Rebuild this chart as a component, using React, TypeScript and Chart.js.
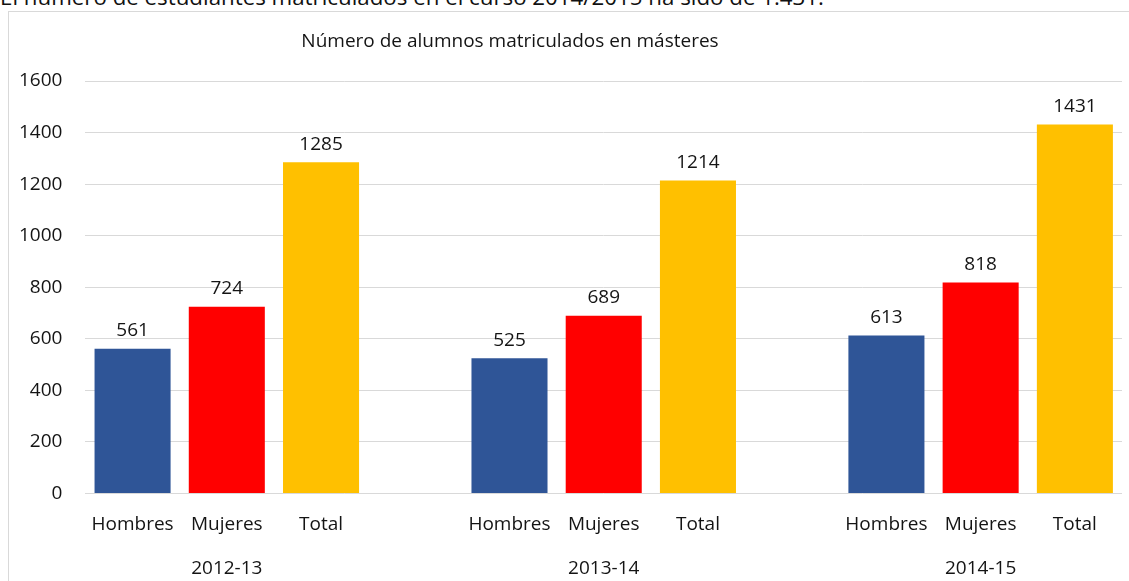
import React, { useEffect, useRef } from 'react';
import { Chart, registerables } from 'chart.js';

Chart.register(...registerables);

// ---- data ----
const categories = ['Hombres', 'Mujeres', 'Total', '', 'Hombres', 'Mujeres', 'Total', '', 'Hombres', 'Mujeres', 'Total'];
const groupLabels = ['', '2012-13', '', '', '', '2013-14', '', '', '', '2014-15', ''];
const values: (number | null)[] = [561, 724, 1285, null, 525, 689, 1214, null, 613, 818, 1431];
const seriesColors = ['#2F5597', '#FF0000', '#FFC000', 'rgba(0,0,0,0)'];
const yMin = 0;
const yMax = 1600;
const yStep = 200;
const titleText = 'Número de alumnos matriculados en másteres';
const noteText = 'El número de estudiantes matriculados en el curso 2014/2015 ha sido de 1.431.';

const FONT = "'Open Sans', 'Noto Sans', sans-serif";
const TEXT_COLOR = '#141414';

const barColors = values.map((_, i) => seriesColors[i % 4]);
const axisLabels = categories.map((c, i) => [c, groupLabels[i]]);

export default function App() {
  const canvasRef = useRef<HTMLCanvasElement | null>(null);

  useEffect(() => {
    if (!canvasRef.current) return;

    const titlePlugin = {
      id: 'customTitle',
      afterDraw(chart: any) {
        const ctx = chart.ctx;
        ctx.save();
        ctx.font = `19px ${FONT}`;
        ctx.fillStyle = TEXT_COLOR;
        ctx.textAlign = 'center';
        ctx.textBaseline = 'middle';
        ctx.fillText(titleText, 514, 30);
        ctx.restore();
      },
    };

    const valueLabelPlugin = {
      id: 'valueLabels',
      afterDatasetsDraw(chart: any) {
        const ctx = chart.ctx;
        const meta = chart.getDatasetMeta(0);
        ctx.save();
        ctx.font = `19px ${FONT}`;
        ctx.fillStyle = TEXT_COLOR;
        ctx.textAlign = 'center';
        ctx.textBaseline = 'alphabetic';
        meta.data.forEach((el: any, i: number) => {
          const v = values[i];
          if (v === null || v === undefined) return;
          ctx.fillText(String(v), el.x, el.y - 12.5);
        });
        ctx.restore();
      },
    };

    const chart = new Chart(canvasRef.current, {
      type: 'bar',
      data: {
        labels: axisLabels as any,
        datasets: [
          {
            data: values,
            backgroundColor: barColors,
            borderWidth: 0,
            barPercentage: 1,
            categoryPercentage: 0.807,
          },
        ],
      },
      options: {
        responsive: false,
        animation: false,
        devicePixelRatio: 1,
        layout: { padding: { top: 69, left: 0, right: 14, bottom: 1.5 } },
        plugins: {
          legend: { display: false },
          title: { display: false },
          tooltip: { enabled: false },
        },
        scales: {
          x: {
            type: 'category',
            position: 'bottom',
            offset: true,
            grid: { display: false, drawTicks: false },
            border: { display: false },
            ticks: {
              autoSkip: false,
              maxRotation: 0,
              minRotation: 0,
              padding: 9.5,
              color: TEXT_COLOR,
              font: { family: FONT, size: 19, lineHeight: '44px' },
            },
          },
          y: {
            min: yMin,
            max: yMax,
            ticks: {
              stepSize: yStep,
              padding: 23,
              color: TEXT_COLOR,
              font: { family: FONT, size: 19 },
              callback: (v: any) => String(v),
            },
            grid: { color: '#D9D9D9', lineWidth: 1, drawTicks: false },
            border: { display: false },
          },
        },
      },
      plugins: [titlePlugin, valueLabelPlugin],
    });

    return () => chart.destroy();
  }, []);

  return (
    <div
      style={{
        position: 'absolute',
        left: 0,
        top: 0,
        width: 1129,
        height: 581,
        overflow: 'hidden',
        background: '#ffffff',
      }}
    >
      <div
        style={{
          position: 'absolute',
          left: 0,
          top: -14,
          whiteSpace: 'nowrap',
          fontFamily: FONT,
          fontSize: 22.3,
          lineHeight: '22px',
          color: '#111',
        }}
      >
        {noteText}
      </div>
      <div
        style={{
          position: 'absolute',
          left: 8,
          top: 11,
          width: 1140,
          height: 620,
          border: '1px solid #D9D9D9',
          boxSizing: 'border-box',
          background: '#ffffff',
        }}
      />
      <canvas
        ref={canvasRef}
        width={1140}
        height={590}
        style={{ display: 'block', position: 'absolute', left: -4, top: 12 }}
      />
    </div>
  );
}
